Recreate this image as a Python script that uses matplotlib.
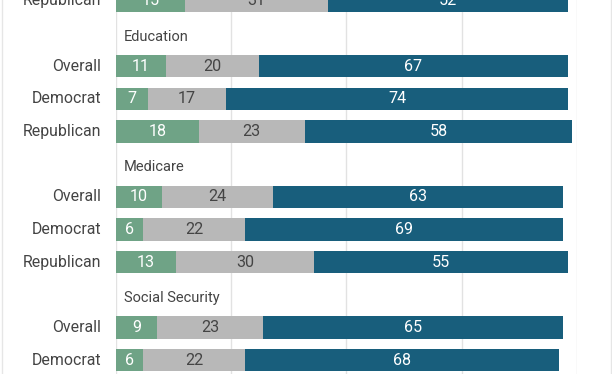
import matplotlib.pyplot as plt

plt.rcParams['font.family'] = ['Roboto', 'DejaVu Sans']

parties = ["Overall", "Democrat", "Republican"]
headers = ["Education", "Medicare", "Social Security"]

# last row of the group above (only partly visible)
prev_rep = [15, 31, 52]

edu_neg = [11, 7, 18]
edu_neu = [20, 17, 23]
edu_pos = [67, 74, 58]

med_neg = [10, 6, 13]
med_neu = [24, 22, 30]
med_pos = [63, 69, 55]

ss_neg = [9, 6]
ss_neu = [23, 22]
ss_pos = [65, 68]

green = '#6fa386'
grey = '#b8b8b8'
blue = '#185e7c'
txt = '#444444'

W, H = 612, 374
fig = plt.figure(figsize=(W/100, H/100), dpi=100)
x0, x1 = 115.7, 577.0
ax = fig.add_axes([x0/W, 0, (x1-x0)/W, 1])

# build the rows: slot 0 is the partial row at the top
rows = [("Republican", prev_rep[0], prev_rep[1], prev_rep[2], 0)]
slot = 1
hdr_slots = []
for h, neg, neu, pos in [("Education", edu_neg, edu_neu, edu_pos),
                         ("Medicare", med_neg, med_neu, med_pos),
                         ("Social Security", ss_neg, ss_neu, ss_pos)]:
    hdr_slots.append((h, slot))
    slot += 1
    for i in range(len(neg)):
        rows.append((parties[i], neg[i], neu[i], pos[i], slot))
        slot += 1

for g in [0, 25, 50, 75, 100]:
    ax.axvline(g, color='#e2e2e2', lw=1, zorder=0)

bh = 0.68
fs = 11.6
for lab, a, b, c, y in rows:
    ax.barh(y, a, left=0, height=bh, color=green, zorder=2)
    ax.barh(y, b, left=a, height=bh, color=grey, zorder=2)
    ax.barh(y, c, left=a+b, height=bh, color=blue, zorder=2)
    ax.text(a/2, y, str(a), ha='center', va='center', color='white', fontsize=fs, zorder=3)
    ax.text(a + b/2, y, str(b), ha='center', va='center', color=txt, fontsize=fs, zorder=3)
    ax.text(a + b + c/2, y, str(c), ha='center', va='center', color='white', fontsize=fs, zorder=3)
    ax.text(-3.2, y, lab, ha='right', va='center', color=txt, fontsize=11.4)

for h, y in hdr_slots:
    ax.text(1.8, y + 0.1, h, ha='left', va='center', color=txt, fontsize=10.5)

ax.set_xlim(0, 100)
ax.set_ylim(11.42, -0.02)
ax.axis('off')

# thin frame lines at the picture edges
fig.add_artist(plt.Line2D([1.5/W, 1.5/W], [0, 1], color='#e6e6e6', lw=1))
fig.add_artist(plt.Line2D([610.5/W, 610.5/W], [0, 1], color='#e6e6e6', lw=1))

fig.savefig('out.png', dpi=100)
